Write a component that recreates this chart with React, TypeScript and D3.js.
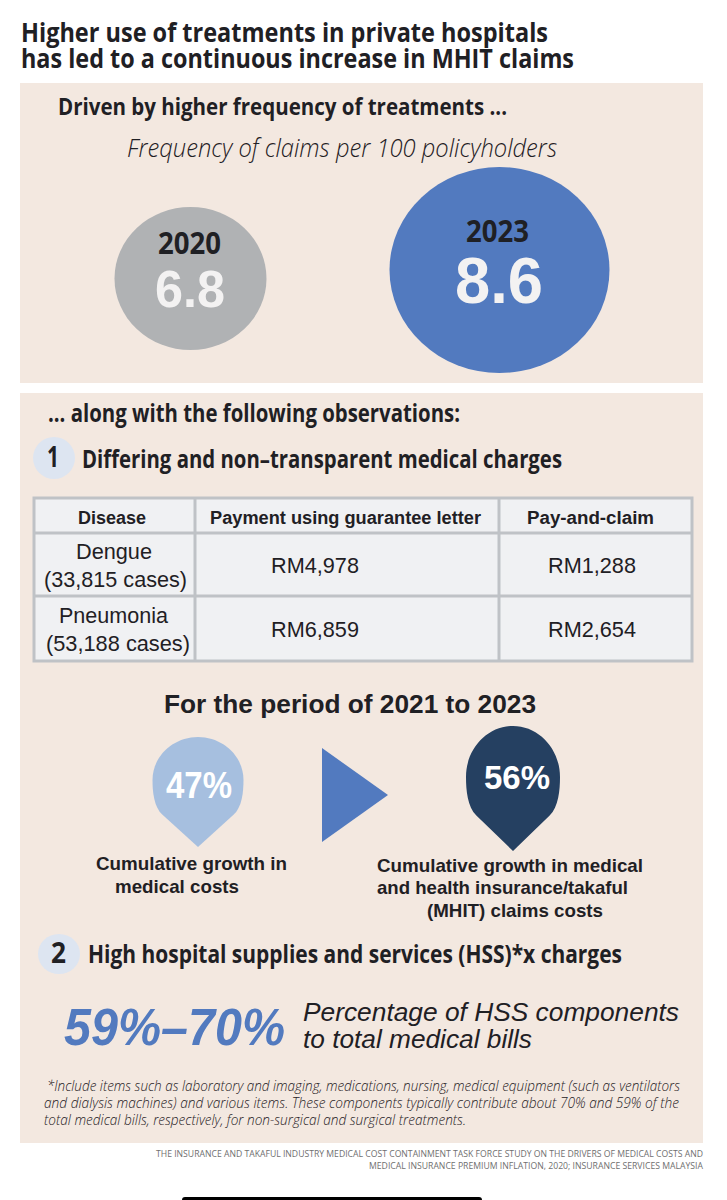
import * as d3 from 'd3';

const titleLines = ['Higher use of treatments in private hospitals', 'has led to a continuous increase in MHIT claims'];
const freqYears = ['2020', '2023'];
const freqValues = [6.8, 8.6];
const tableHeaders = ['Disease', 'Payment using guarantee letter', 'Pay-and-claim'];
const diseases = ['Dengue', 'Pneumonia'];
const caseCounts = ['(33,815 cases)', '(53,188 cases)'];
const guaranteeLetter = ['RM4,978', 'RM6,859'];
const payAndClaim = ['RM1,288', 'RM2,654'];
const growthValues = [47, 56];
const footnoteLines = [
  '*Include items such as laboratory and imaging, medications, nursing, medical equipment (such as ventilators',
  'and dialysis machines) and various items. These components typically contribute about 70% and 59% of the',
  'total medical bills, respectively, for non-surgical and surgical treatments.',
];
const sourceLines = [
  'THE INSURANCE AND TAKAFUL INDUSTRY MEDICAL COST CONTAINMENT TASK FORCE STUDY ON THE DRIVERS OF MEDICAL COSTS AND',
  'MEDICAL INSURANCE PREMIUM INFLATION, 2020; INSURANCE SERVICES MALAYSIA',
];

const INK = '#1f2024';
const PANEL = '#f3e8e0';
const BLUE = '#527abf';
const HEAD = '"Open Sans", sans-serif';
const ARIAL = '"Liberation Sans", sans-serif';

const rx = d3.scaleLinear().domain([6.8, 8.6]).range([76, 110]);
const ry = d3.scaleLinear().domain([6.8, 8.6]).range([71.5, 103]);

function pinPath(cx: number, top: number, ym: number, tip: number, hw: number) {
  const up = ym - top;
  // where the straight tail meets the round head
  const jx = hw * 0.78;
  const jy = ym + (tip - ym) * 0.52;
  // first control point stays on the tail's line so there is no corner at the join
  const c1x = jx * 1.24;
  const c1y = tip - (tip - jy) * 1.24;
  const c2y = ym + (c1y - ym) * 0.45;
  const p = d3.path();
  p.moveTo(cx, tip);
  p.lineTo(cx - jx, jy);
  p.bezierCurveTo(cx - c1x, c1y, cx - hw, c2y, cx - hw, ym);
  p.bezierCurveTo(cx - hw, ym - up * 0.55, cx - hw * 0.55, top, cx, top);
  p.bezierCurveTo(cx + hw * 0.55, top, cx + hw, ym - up * 0.55, cx + hw, ym);
  p.bezierCurveTo(cx + hw, c2y, cx + c1x, c1y, cx + jx, jy);
  p.closePath();
  return p.toString();
}

interface TProps {
  x: number;
  y: number;
  w: number;
  size: number;
  weight?: number;
  italic?: boolean;
  fill?: string;
  font?: string;
  children: string;
}

// text stretched to the width it has in the picture
function T({ x, y, w, size, weight = 400, italic = false, fill = INK, font = ARIAL, children }: TProps) {
  return (
    <text
      x={x}
      y={y}
      textLength={w}
      lengthAdjust="spacingAndGlyphs"
      fontSize={size}
      fontWeight={weight}
      fontStyle={italic ? 'italic' : 'normal'}
      fill={fill}
      fontFamily={font}
    >
      {children}
    </text>
  );
}

export default function App() {
  const triangle = d3.line()([
    [322, 748],
    [388, 795],
    [322, 842],
  ]) + 'Z';

  return (
    <svg width={727} height={1200} style={{ position: 'absolute', left: 0, top: 0, background: '#fff' }}>
      <T x={21} y={42} w={527} size={27} weight={700} font={HEAD}>{titleLines[0]}</T>
      <T x={21} y={68} w={553} size={27} weight={700} font={HEAD}>{titleLines[1]}</T>

      <rect x={20} y={83} width={683} height={300} fill={PANEL} />
      <T x={58} y={115} w={449} size={24} weight={700} font={HEAD}>Driven by higher frequency of treatments ...</T>
      <T x={127} y={157} w={430} size={26} weight={300} italic font={HEAD}>Frequency of claims per 100 policyholders</T>

      <ellipse cx={190.5} cy={278.5} rx={rx(freqValues[0])} ry={ry(freqValues[0])} fill="#b0b2b4" />
      <ellipse cx={499.5} cy={270} rx={rx(freqValues[1])} ry={ry(freqValues[1])} fill={BLUE} />
      <T x={158} y={254} w={63} size={30} weight={700} font={HEAD}>{freqYears[0]}</T>
      <T x={155} y={307} w={70} size={52} weight={700} fill="#f3f2f2">{String(freqValues[0])}</T>
      <T x={466} y={242} w={63} size={30} weight={700} font={HEAD}>{freqYears[1]}</T>
      <T x={455} y={303} w={88} size={65} weight={700} fill="#f3f2f2">{String(freqValues[1])}</T>

      <rect x={20} y={393} width={683} height={750} fill={PANEL} />
      <T x={48} y={422} w={412} size={25} weight={700} font={HEAD}>... along with the following observations:</T>
      <ellipse cx={54} cy={458} rx={21} ry={21} fill="#dde5f1" />
      <T x={47} y={467} w={12} size={28} weight={700} font={HEAD}>1</T>
      <T x={82} y={468} w={480} size={25} weight={700} font={HEAD}>Differing and non–transparent medical charges</T>

      <g stroke="#bfc2c6" strokeWidth={3} fill="#f0f1f3">
        <rect x={34} y={498} width={658} height={163} />
        <line x1={195} x2={195} y1={498} y2={661} />
        <line x1={499} x2={499} y1={498} y2={661} />
        <line x1={34} x2={692} y1={533} y2={533} />
        <line x1={34} x2={692} y1={596} y2={596} />
      </g>
      <T x={78} y={524} w={68} size={18} weight={700}>{tableHeaders[0]}</T>
      <T x={210} y={524} w={271} size={18} weight={700}>{tableHeaders[1]}</T>
      <T x={527} y={524} w={127} size={18} weight={700}>{tableHeaders[2]}</T>
      <T x={76} y={559} w={76} size={22}>{diseases[0]}</T>
      <T x={44} y={587} w={143} size={22}>{caseCounts[0]}</T>
      <T x={59} y={623} w={109} size={22}>{diseases[1]}</T>
      <T x={46} y={651} w={144} size={22}>{caseCounts[1]}</T>
      <T x={271} y={573} w={88} size={22}>{guaranteeLetter[0]}</T>
      <T x={548} y={573} w={88} size={22}>{payAndClaim[0]}</T>
      <T x={271} y={637} w={88} size={22}>{guaranteeLetter[1]}</T>
      <T x={548} y={637} w={88} size={22}>{payAndClaim[1]}</T>

      <T x={164} y={713} w={372} size={26} weight={700}>For the period of 2021 to 2023</T>
      <path d={pinPath(198, 737, 780, 847, 45.5)} fill="#a6bfdf" />
      <path d={triangle} fill={BLUE} />
      <path d={pinPath(513, 726, 777, 851, 47)} fill="#254061" />
      <T x={166} y={798} w={66} size={36} weight={700} fill="#fff">{`${growthValues[0]}%`}</T>
      <T x={484} y={789} w={66} size={34} weight={700} fill="#fff">{`${growthValues[1]}%`}</T>

      <T x={96} y={870} w={191} size={19} weight={700}>Cumulative growth in</T>
      <T x={115} y={893} w={124} size={19} weight={700}>medical costs</T>
      <T x={377} y={872} w={266} size={19} weight={700}>Cumulative growth in medical</T>
      <T x={377} y={894} w={251} size={19} weight={700}>and health insurance/takaful</T>
      <T x={427} y={917} w={176} size={19} weight={700}>(MHIT) claims costs</T>

      <ellipse cx={59} cy={954} rx={21} ry={20} fill="#dde5f1" />
      <T x={51} y={963} w={15} size={28} weight={700} font={HEAD}>2</T>
      <T x={88} y={963} w={534} size={25} weight={700} font={HEAD}>High hospital supplies and services (HSS)*x charges</T>

      <T x={64} y={1045} w={221} size={51} weight={700} italic fill={BLUE}>59%–70%</T>
      <T x={303} y={1021} w={376} size={26} italic>Percentage of HSS components</T>
      <T x={303} y={1048} w={229} size={26} italic>to total medical bills</T>

      <T x={47} y={1091} w={633} size={14} weight={300} italic font={HEAD}>{footnoteLines[0]}</T>
      <T x={44} y={1108} w={635} size={14} weight={300} italic font={HEAD}>{footnoteLines[1]}</T>
      <T x={44} y={1125} w={422} size={14} weight={300} italic font={HEAD}>{footnoteLines[2]}</T>

      <T x={156} y={1157} w={547} size={9} fill="#6f6f6f" font={HEAD}>{sourceLines[0]}</T>
      <T x={369} y={1169} w={334} size={9} fill="#6f6f6f" font={HEAD}>{sourceLines[1]}</T>

      <rect x={182} y={1197} width={300} height={8} rx={3} fill="#000" />
    </svg>
  );
}
